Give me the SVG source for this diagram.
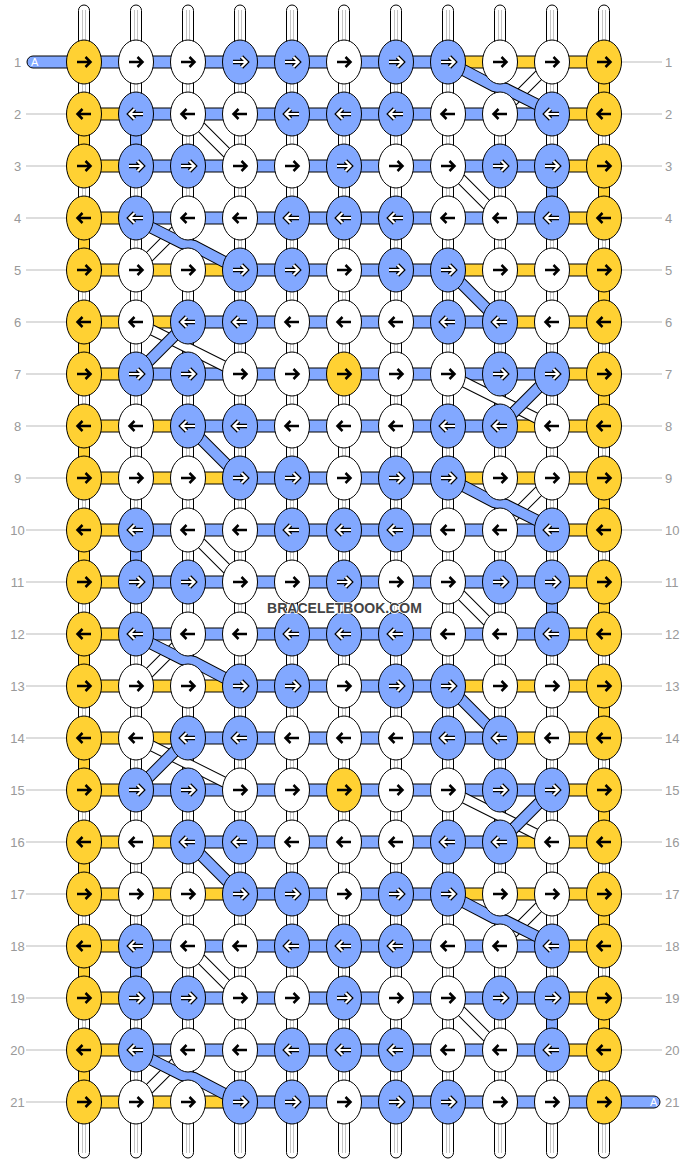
<svg xmlns="http://www.w3.org/2000/svg" xmlns:xlink="http://www.w3.org/1999/xlink" width="688" height="1164" viewBox="0 0 688 1164">
<style>
.ky{fill:#FFD133;stroke:#000;stroke-width:1}
.kb{fill:#82A8FF;stroke:#000;stroke-width:1}
.kw{fill:#fff;stroke:#000;stroke-width:1}
.hy{fill:#FFD133;stroke:#000;stroke-width:1}
.hb{fill:#82A8FF;stroke:#000;stroke-width:1}
.ws{fill:#fff;stroke:#000;stroke-width:1}
.wl{fill:none;stroke:#c4c4c4;stroke-width:1}
.ab{fill:none;stroke:#000;stroke-width:2.5}
.ao{fill:none;stroke:#000;stroke-width:4.6}
.ai{fill:none;stroke:#fff;stroke-width:2.2}
.dwo{fill:none;stroke:#000;stroke-width:11}
.dwi{fill:none;stroke:#fff;stroke-width:9}
.dbo{fill:none;stroke:#000;stroke-width:12}
.dbi{fill:none;stroke:#82A8FF;stroke-width:10}
.lab{font-family:"Liberation Sans",Arial,sans-serif;font-size:13px;fill:#999}
.gl{fill:none;stroke:#bbb;stroke-width:1}
.at{font-family:"Liberation Sans",Arial,sans-serif;font-size:11px;fill:#fff}
</style>
<defs>
<ellipse id="e" rx="17.5" ry="22"/>
<path id="pr" d="M-7,0H6.5M1.5,-5L6.5,0L1.5,5"/>
<path id="pl" d="M7,0H-6.5M-1.5,-5L-6.5,0L-1.5,5"/>
<g id="YR"><use href="#e" class="ky"/><use href="#pr" class="ab"/></g>
<g id="YL"><use href="#e" class="ky"/><use href="#pl" class="ab"/></g>
<g id="WR"><use href="#e" class="kw"/><use href="#pr" class="ab"/></g>
<g id="WL"><use href="#e" class="kw"/><use href="#pl" class="ab"/></g>
<g id="BR"><use href="#e" class="kb"/><use href="#pr" class="ao"/><use href="#pr" class="ai"/></g>
<g id="BL"><use href="#e" class="kb"/><use href="#pl" class="ao"/><use href="#pl" class="ai"/></g>
<g id="dA">
<path d="M552,62L500,114M188,114L240,166M448,166L500,218M188,218L136,270" class="dwo"/>
<path d="M552,62L500,114M188,114L240,166M448,166L500,218M188,218L136,270" class="dwi"/>
<path d="M448,62L494,86L506,89L552,112M136,220L182,243L194,246L240,270" class="dbo"/>
<path d="M448,62L494,86L506,89L552,112M136,220L182,243L194,246L240,270" class="dbi"/>
</g>
<g id="dB">
<path d="M136,322L240,374M448,374L552,426" class="dwo"/>
<path d="M136,322L240,374M448,374L552,426" class="dwi"/>
<path d="M448,270L500,322M188,322L136,374M552,374L500,426M188,426L240,478" class="dbo"/>
<path d="M448,270L500,322M188,322L136,374M552,374L500,426M188,426L240,478" class="dbi"/>
</g>
</defs>
<rect width="688" height="1164" fill="#fff"/>
<g id="labels">
<path class="gl" d="M26,114H70M26,166H70M26,218H70M26,270H70M26,322H70M26,374H70M26,426H70M26,478H70M26,530H70M26,582H70M26,634H70M26,686H70M26,738H70M26,790H70M26,842H70M26,894H70M26,946H70M26,998H70M26,1050H70M26,1102H70"/>
<path class="gl" d="M618,62H662M618,114H662M618,166H662M618,218H662M618,270H662M618,322H662M618,374H662M618,426H662M618,478H662M618,530H662M618,582H662M618,634H662M618,686H662M618,738H662M618,790H662M618,842H662M618,894H662M618,946H662M618,998H662M618,1050H662"/>
<g class="lab" text-anchor="middle">
<text x="17.5" y="66.5">1</text><text x="17.5" y="118.5">2</text><text x="17.5" y="170.5">3</text><text x="17.5" y="222.5">4</text><text x="17.5" y="274.5">5</text><text x="17.5" y="326.5">6</text><text x="17.5" y="378.5">7</text><text x="17.5" y="430.5">8</text><text x="17.5" y="482.5">9</text><text x="17.5" y="534.5">10</text><text x="17.5" y="586.5">11</text><text x="17.5" y="638.5">12</text><text x="17.5" y="690.5">13</text><text x="17.5" y="742.5">14</text><text x="17.5" y="794.5">15</text><text x="17.5" y="846.5">16</text><text x="17.5" y="898.5">17</text><text x="17.5" y="950.5">18</text><text x="17.5" y="1002.5">19</text><text x="17.5" y="1054.5">20</text><text x="17.5" y="1106.5">21</text>
</g>
<g class="lab">
<text x="665" y="66.5">1</text><text x="665" y="118.5">2</text><text x="665" y="170.5">3</text><text x="665" y="222.5">4</text><text x="665" y="274.5">5</text><text x="665" y="326.5">6</text><text x="665" y="378.5">7</text><text x="665" y="430.5">8</text><text x="665" y="482.5">9</text><text x="665" y="534.5">10</text><text x="665" y="586.5">11</text><text x="665" y="638.5">12</text><text x="665" y="690.5">13</text><text x="665" y="742.5">14</text><text x="665" y="794.5">15</text><text x="665" y="846.5">16</text><text x="665" y="898.5">17</text><text x="665" y="950.5">18</text><text x="665" y="1002.5">19</text><text x="665" y="1054.5">20</text><text x="665" y="1106.5">21</text>
</g>
</g>
<g id="connectors">
<g id="warps">
<rect class="ws" x="78.5" y="5" width="11" height="1153" rx="5.5"/>
<rect class="ws" x="130.5" y="5" width="11" height="1153" rx="5.5"/>
<rect class="ws" x="182.5" y="5" width="11" height="1153" rx="5.5"/>
<rect class="ws" x="234.5" y="5" width="11" height="1153" rx="5.5"/>
<rect class="ws" x="286.5" y="5" width="11" height="1153" rx="5.5"/>
<rect class="ws" x="338.5" y="5" width="11" height="1153" rx="5.5"/>
<rect class="ws" x="390.5" y="5" width="11" height="1153" rx="5.5"/>
<rect class="ws" x="442.5" y="5" width="11" height="1153" rx="5.5"/>
<rect class="ws" x="494.5" y="5" width="11" height="1153" rx="5.5"/>
<rect class="ws" x="546.5" y="5" width="11" height="1153" rx="5.5"/>
<rect class="ws" x="598.5" y="5" width="11" height="1153" rx="5.5"/>
<path class="wl" d="M82.5,10V1153M85.5,10V1153M134.5,10V1153M137.5,10V1153M186.5,10V1153M189.5,10V1153M238.5,10V1153M241.5,10V1153M290.5,10V1153M293.5,10V1153M342.5,10V1153M345.5,10V1153M394.5,10V1153M397.5,10V1153M446.5,10V1153M449.5,10V1153M498.5,10V1153M501.5,10V1153M550.5,10V1153M553.5,10V1153M602.5,10V1153M605.5,10V1153"/>
</g>
<g id="weft-h">
<rect class="hb" x="27" y="56" width="62" height="12" rx="6"/>
<rect class="hb" x="84" y="56" width="364" height="12"/><rect class="hy" x="448" y="56" width="156" height="12"/>
<rect class="hy" x="84" y="108" width="52" height="12"/><rect class="hb" x="136" y="108" width="416" height="12"/><rect class="hy" x="552" y="108" width="52" height="12"/>
<rect class="hy" x="84" y="160" width="52" height="12"/><rect class="hb" x="136" y="160" width="416" height="12"/><rect class="hy" x="552" y="160" width="52" height="12"/>
<rect class="hy" x="84" y="212" width="52" height="12"/><rect class="hb" x="136" y="212" width="416" height="12"/><rect class="hy" x="552" y="212" width="52" height="12"/>
<rect class="hy" x="84" y="264" width="156" height="12"/><rect class="hb" x="240" y="264" width="208" height="12"/><rect class="hy" x="448" y="264" width="156" height="12"/>
<rect class="hy" x="84" y="316" width="104" height="12"/><rect class="hb" x="188" y="316" width="312" height="12"/><rect class="hy" x="500" y="316" width="104" height="12"/>
<rect class="hy" x="84" y="368" width="52" height="12"/><rect class="hb" x="136" y="368" width="416" height="12"/><rect class="hy" x="552" y="368" width="52" height="12"/>
<rect class="hy" x="84" y="420" width="104" height="12"/><rect class="hb" x="188" y="420" width="312" height="12"/><rect class="hy" x="500" y="420" width="104" height="12"/>
<rect class="hy" x="84" y="472" width="156" height="12"/><rect class="hb" x="240" y="472" width="208" height="12"/><rect class="hy" x="448" y="472" width="156" height="12"/>
<rect class="hy" x="84" y="524" width="52" height="12"/><rect class="hb" x="136" y="524" width="416" height="12"/><rect class="hy" x="552" y="524" width="52" height="12"/>
<rect class="hy" x="84" y="576" width="52" height="12"/><rect class="hb" x="136" y="576" width="416" height="12"/><rect class="hy" x="552" y="576" width="52" height="12"/>
<rect class="hy" x="84" y="628" width="52" height="12"/><rect class="hb" x="136" y="628" width="416" height="12"/><rect class="hy" x="552" y="628" width="52" height="12"/>
<rect class="hy" x="84" y="680" width="156" height="12"/><rect class="hb" x="240" y="680" width="208" height="12"/><rect class="hy" x="448" y="680" width="156" height="12"/>
<rect class="hy" x="84" y="732" width="104" height="12"/><rect class="hb" x="188" y="732" width="312" height="12"/><rect class="hy" x="500" y="732" width="104" height="12"/>
<rect class="hy" x="84" y="784" width="52" height="12"/><rect class="hb" x="136" y="784" width="416" height="12"/><rect class="hy" x="552" y="784" width="52" height="12"/>
<rect class="hy" x="84" y="836" width="104" height="12"/><rect class="hb" x="188" y="836" width="312" height="12"/><rect class="hy" x="500" y="836" width="104" height="12"/>
<rect class="hy" x="84" y="888" width="156" height="12"/><rect class="hb" x="240" y="888" width="208" height="12"/><rect class="hy" x="448" y="888" width="156" height="12"/>
<rect class="hy" x="84" y="940" width="52" height="12"/><rect class="hb" x="136" y="940" width="416" height="12"/><rect class="hy" x="552" y="940" width="52" height="12"/>
<rect class="hy" x="84" y="992" width="52" height="12"/><rect class="hb" x="136" y="992" width="416" height="12"/><rect class="hy" x="552" y="992" width="52" height="12"/>
<rect class="hy" x="84" y="1044" width="52" height="12"/><rect class="hb" x="136" y="1044" width="416" height="12"/><rect class="hy" x="552" y="1044" width="52" height="12"/>
<rect class="hb" x="590" y="1096" width="70" height="12" rx="6"/>
<rect class="hy" x="84" y="1096" width="156" height="12"/><rect class="hb" x="240" y="1096" width="364" height="12"/>
<text class="at" x="31" y="66">A</text>
<text class="at" x="650" y="1106">A</text>
</g>
<g id="weft-v">
<rect class="hy" x="78.5" y="114" width="11" height="52"/><rect class="hy" x="78.5" y="218" width="11" height="52"/><rect class="hy" x="78.5" y="322" width="11" height="52"/><rect class="hy" x="78.5" y="426" width="11" height="52"/><rect class="hy" x="78.5" y="530" width="11" height="52"/><rect class="hy" x="78.5" y="634" width="11" height="52"/><rect class="hy" x="78.5" y="738" width="11" height="52"/><rect class="hy" x="78.5" y="842" width="11" height="52"/><rect class="hy" x="78.5" y="946" width="11" height="52"/><rect class="hy" x="78.5" y="1050" width="11" height="52"/>
<rect class="hy" x="598.5" y="62" width="11" height="52"/><rect class="hy" x="598.5" y="166" width="11" height="52"/><rect class="hy" x="598.5" y="270" width="11" height="52"/><rect class="hy" x="598.5" y="374" width="11" height="52"/><rect class="hy" x="598.5" y="478" width="11" height="52"/><rect class="hy" x="598.5" y="582" width="11" height="52"/><rect class="hy" x="598.5" y="686" width="11" height="52"/><rect class="hy" x="598.5" y="790" width="11" height="52"/><rect class="hy" x="598.5" y="894" width="11" height="52"/><rect class="hy" x="598.5" y="998" width="11" height="52"/>
<rect class="hb" x="130.5" y="114" width="11" height="52"/><rect class="hb" x="130.5" y="530" width="11" height="52"/><rect class="hb" x="130.5" y="946" width="11" height="52"/>
<rect class="hb" x="546.5" y="166" width="11" height="52"/><rect class="hb" x="546.5" y="582" width="11" height="52"/><rect class="hb" x="546.5" y="998" width="11" height="52"/>
</g>
<g id="diagonals">
<use href="#dA"/><use href="#dA" y="416"/><use href="#dA" y="832"/>
<use href="#dB"/><use href="#dB" y="416"/>
</g>
</g>
<g id="knots">
<g id="n1-1"><use href="#YR" x="84" y="62"/></g><g id="n1-2"><use href="#WR" x="136" y="62"/></g><g id="n1-3"><use href="#WR" x="188" y="62"/></g><g id="n1-4"><use href="#BR" x="240" y="62"/></g><g id="n1-5"><use href="#BR" x="292" y="62"/></g><g id="n1-6"><use href="#WR" x="344" y="62"/></g><g id="n1-7"><use href="#BR" x="396" y="62"/></g><g id="n1-8"><use href="#BR" x="448" y="62"/></g><g id="n1-9"><use href="#WR" x="500" y="62"/></g><g id="n1-10"><use href="#WR" x="552" y="62"/></g><g id="n1-11"><use href="#YR" x="604" y="62"/></g>
<g id="n2-1"><use href="#YL" x="84" y="114"/></g><g id="n2-2"><use href="#BL" x="136" y="114"/></g><g id="n2-3"><use href="#WL" x="188" y="114"/></g><g id="n2-4"><use href="#WL" x="240" y="114"/></g><g id="n2-5"><use href="#BL" x="292" y="114"/></g><g id="n2-6"><use href="#BL" x="344" y="114"/></g><g id="n2-7"><use href="#BL" x="396" y="114"/></g><g id="n2-8"><use href="#WL" x="448" y="114"/></g><g id="n2-9"><use href="#WL" x="500" y="114"/></g><g id="n2-10"><use href="#BL" x="552" y="114"/></g><g id="n2-11"><use href="#YL" x="604" y="114"/></g>
<g id="n3-1"><use href="#YR" x="84" y="166"/></g><g id="n3-2"><use href="#BR" x="136" y="166"/></g><g id="n3-3"><use href="#BR" x="188" y="166"/></g><g id="n3-4"><use href="#WR" x="240" y="166"/></g><g id="n3-5"><use href="#WR" x="292" y="166"/></g><g id="n3-6"><use href="#BR" x="344" y="166"/></g><g id="n3-7"><use href="#WR" x="396" y="166"/></g><g id="n3-8"><use href="#WR" x="448" y="166"/></g><g id="n3-9"><use href="#BR" x="500" y="166"/></g><g id="n3-10"><use href="#BR" x="552" y="166"/></g><g id="n3-11"><use href="#YR" x="604" y="166"/></g>
<g id="n4-1"><use href="#YL" x="84" y="218"/></g><g id="n4-2"><use href="#BL" x="136" y="218"/></g><g id="n4-3"><use href="#WL" x="188" y="218"/></g><g id="n4-4"><use href="#WL" x="240" y="218"/></g><g id="n4-5"><use href="#BL" x="292" y="218"/></g><g id="n4-6"><use href="#BL" x="344" y="218"/></g><g id="n4-7"><use href="#BL" x="396" y="218"/></g><g id="n4-8"><use href="#WL" x="448" y="218"/></g><g id="n4-9"><use href="#WL" x="500" y="218"/></g><g id="n4-10"><use href="#BL" x="552" y="218"/></g><g id="n4-11"><use href="#YL" x="604" y="218"/></g>
<g id="n5-1"><use href="#YR" x="84" y="270"/></g><g id="n5-2"><use href="#WR" x="136" y="270"/></g><g id="n5-3"><use href="#WR" x="188" y="270"/></g><g id="n5-4"><use href="#BR" x="240" y="270"/></g><g id="n5-5"><use href="#BR" x="292" y="270"/></g><g id="n5-6"><use href="#WR" x="344" y="270"/></g><g id="n5-7"><use href="#BR" x="396" y="270"/></g><g id="n5-8"><use href="#BR" x="448" y="270"/></g><g id="n5-9"><use href="#WR" x="500" y="270"/></g><g id="n5-10"><use href="#WR" x="552" y="270"/></g><g id="n5-11"><use href="#YR" x="604" y="270"/></g>
<g id="n6-1"><use href="#YL" x="84" y="322"/></g><g id="n6-2"><use href="#WL" x="136" y="322"/></g><g id="n6-3"><use href="#BL" x="188" y="322"/></g><g id="n6-4"><use href="#BL" x="240" y="322"/></g><g id="n6-5"><use href="#WL" x="292" y="322"/></g><g id="n6-6"><use href="#WL" x="344" y="322"/></g><g id="n6-7"><use href="#WL" x="396" y="322"/></g><g id="n6-8"><use href="#BL" x="448" y="322"/></g><g id="n6-9"><use href="#BL" x="500" y="322"/></g><g id="n6-10"><use href="#WL" x="552" y="322"/></g><g id="n6-11"><use href="#YL" x="604" y="322"/></g>
<g id="n7-1"><use href="#YR" x="84" y="374"/></g><g id="n7-2"><use href="#BR" x="136" y="374"/></g><g id="n7-3"><use href="#BR" x="188" y="374"/></g><g id="n7-4"><use href="#WR" x="240" y="374"/></g><g id="n7-5"><use href="#WR" x="292" y="374"/></g><g id="n7-6"><use href="#YR" x="344" y="374"/></g><g id="n7-7"><use href="#WR" x="396" y="374"/></g><g id="n7-8"><use href="#WR" x="448" y="374"/></g><g id="n7-9"><use href="#BR" x="500" y="374"/></g><g id="n7-10"><use href="#BR" x="552" y="374"/></g><g id="n7-11"><use href="#YR" x="604" y="374"/></g>
<g id="n8-1"><use href="#YL" x="84" y="426"/></g><g id="n8-2"><use href="#WL" x="136" y="426"/></g><g id="n8-3"><use href="#BL" x="188" y="426"/></g><g id="n8-4"><use href="#BL" x="240" y="426"/></g><g id="n8-5"><use href="#WL" x="292" y="426"/></g><g id="n8-6"><use href="#WL" x="344" y="426"/></g><g id="n8-7"><use href="#WL" x="396" y="426"/></g><g id="n8-8"><use href="#BL" x="448" y="426"/></g><g id="n8-9"><use href="#BL" x="500" y="426"/></g><g id="n8-10"><use href="#WL" x="552" y="426"/></g><g id="n8-11"><use href="#YL" x="604" y="426"/></g>
<g id="n9-1"><use href="#YR" x="84" y="478"/></g><g id="n9-2"><use href="#WR" x="136" y="478"/></g><g id="n9-3"><use href="#WR" x="188" y="478"/></g><g id="n9-4"><use href="#BR" x="240" y="478"/></g><g id="n9-5"><use href="#BR" x="292" y="478"/></g><g id="n9-6"><use href="#WR" x="344" y="478"/></g><g id="n9-7"><use href="#BR" x="396" y="478"/></g><g id="n9-8"><use href="#BR" x="448" y="478"/></g><g id="n9-9"><use href="#WR" x="500" y="478"/></g><g id="n9-10"><use href="#WR" x="552" y="478"/></g><g id="n9-11"><use href="#YR" x="604" y="478"/></g>
<g id="n10-1"><use href="#YL" x="84" y="530"/></g><g id="n10-2"><use href="#BL" x="136" y="530"/></g><g id="n10-3"><use href="#WL" x="188" y="530"/></g><g id="n10-4"><use href="#WL" x="240" y="530"/></g><g id="n10-5"><use href="#BL" x="292" y="530"/></g><g id="n10-6"><use href="#BL" x="344" y="530"/></g><g id="n10-7"><use href="#BL" x="396" y="530"/></g><g id="n10-8"><use href="#WL" x="448" y="530"/></g><g id="n10-9"><use href="#WL" x="500" y="530"/></g><g id="n10-10"><use href="#BL" x="552" y="530"/></g><g id="n10-11"><use href="#YL" x="604" y="530"/></g>
<g id="n11-1"><use href="#YR" x="84" y="582"/></g><g id="n11-2"><use href="#BR" x="136" y="582"/></g><g id="n11-3"><use href="#BR" x="188" y="582"/></g><g id="n11-4"><use href="#WR" x="240" y="582"/></g><g id="n11-5"><use href="#WR" x="292" y="582"/></g><g id="n11-6"><use href="#BR" x="344" y="582"/></g><g id="n11-7"><use href="#WR" x="396" y="582"/></g><g id="n11-8"><use href="#WR" x="448" y="582"/></g><g id="n11-9"><use href="#BR" x="500" y="582"/></g><g id="n11-10"><use href="#BR" x="552" y="582"/></g><g id="n11-11"><use href="#YR" x="604" y="582"/></g>
<g id="n12-1"><use href="#YL" x="84" y="634"/></g><g id="n12-2"><use href="#BL" x="136" y="634"/></g><g id="n12-3"><use href="#WL" x="188" y="634"/></g><g id="n12-4"><use href="#WL" x="240" y="634"/></g><g id="n12-5"><use href="#BL" x="292" y="634"/></g><g id="n12-6"><use href="#BL" x="344" y="634"/></g><g id="n12-7"><use href="#BL" x="396" y="634"/></g><g id="n12-8"><use href="#WL" x="448" y="634"/></g><g id="n12-9"><use href="#WL" x="500" y="634"/></g><g id="n12-10"><use href="#BL" x="552" y="634"/></g><g id="n12-11"><use href="#YL" x="604" y="634"/></g>
<g id="n13-1"><use href="#YR" x="84" y="686"/></g><g id="n13-2"><use href="#WR" x="136" y="686"/></g><g id="n13-3"><use href="#WR" x="188" y="686"/></g><g id="n13-4"><use href="#BR" x="240" y="686"/></g><g id="n13-5"><use href="#BR" x="292" y="686"/></g><g id="n13-6"><use href="#WR" x="344" y="686"/></g><g id="n13-7"><use href="#BR" x="396" y="686"/></g><g id="n13-8"><use href="#BR" x="448" y="686"/></g><g id="n13-9"><use href="#WR" x="500" y="686"/></g><g id="n13-10"><use href="#WR" x="552" y="686"/></g><g id="n13-11"><use href="#YR" x="604" y="686"/></g>
<g id="n14-1"><use href="#YL" x="84" y="738"/></g><g id="n14-2"><use href="#WL" x="136" y="738"/></g><g id="n14-3"><use href="#BL" x="188" y="738"/></g><g id="n14-4"><use href="#BL" x="240" y="738"/></g><g id="n14-5"><use href="#WL" x="292" y="738"/></g><g id="n14-6"><use href="#WL" x="344" y="738"/></g><g id="n14-7"><use href="#WL" x="396" y="738"/></g><g id="n14-8"><use href="#BL" x="448" y="738"/></g><g id="n14-9"><use href="#BL" x="500" y="738"/></g><g id="n14-10"><use href="#WL" x="552" y="738"/></g><g id="n14-11"><use href="#YL" x="604" y="738"/></g>
<g id="n15-1"><use href="#YR" x="84" y="790"/></g><g id="n15-2"><use href="#BR" x="136" y="790"/></g><g id="n15-3"><use href="#BR" x="188" y="790"/></g><g id="n15-4"><use href="#WR" x="240" y="790"/></g><g id="n15-5"><use href="#WR" x="292" y="790"/></g><g id="n15-6"><use href="#YR" x="344" y="790"/></g><g id="n15-7"><use href="#WR" x="396" y="790"/></g><g id="n15-8"><use href="#WR" x="448" y="790"/></g><g id="n15-9"><use href="#BR" x="500" y="790"/></g><g id="n15-10"><use href="#BR" x="552" y="790"/></g><g id="n15-11"><use href="#YR" x="604" y="790"/></g>
<g id="n16-1"><use href="#YL" x="84" y="842"/></g><g id="n16-2"><use href="#WL" x="136" y="842"/></g><g id="n16-3"><use href="#BL" x="188" y="842"/></g><g id="n16-4"><use href="#BL" x="240" y="842"/></g><g id="n16-5"><use href="#WL" x="292" y="842"/></g><g id="n16-6"><use href="#WL" x="344" y="842"/></g><g id="n16-7"><use href="#WL" x="396" y="842"/></g><g id="n16-8"><use href="#BL" x="448" y="842"/></g><g id="n16-9"><use href="#BL" x="500" y="842"/></g><g id="n16-10"><use href="#WL" x="552" y="842"/></g><g id="n16-11"><use href="#YL" x="604" y="842"/></g>
<g id="n17-1"><use href="#YR" x="84" y="894"/></g><g id="n17-2"><use href="#WR" x="136" y="894"/></g><g id="n17-3"><use href="#WR" x="188" y="894"/></g><g id="n17-4"><use href="#BR" x="240" y="894"/></g><g id="n17-5"><use href="#BR" x="292" y="894"/></g><g id="n17-6"><use href="#WR" x="344" y="894"/></g><g id="n17-7"><use href="#BR" x="396" y="894"/></g><g id="n17-8"><use href="#BR" x="448" y="894"/></g><g id="n17-9"><use href="#WR" x="500" y="894"/></g><g id="n17-10"><use href="#WR" x="552" y="894"/></g><g id="n17-11"><use href="#YR" x="604" y="894"/></g>
<g id="n18-1"><use href="#YL" x="84" y="946"/></g><g id="n18-2"><use href="#BL" x="136" y="946"/></g><g id="n18-3"><use href="#WL" x="188" y="946"/></g><g id="n18-4"><use href="#WL" x="240" y="946"/></g><g id="n18-5"><use href="#BL" x="292" y="946"/></g><g id="n18-6"><use href="#BL" x="344" y="946"/></g><g id="n18-7"><use href="#BL" x="396" y="946"/></g><g id="n18-8"><use href="#WL" x="448" y="946"/></g><g id="n18-9"><use href="#WL" x="500" y="946"/></g><g id="n18-10"><use href="#BL" x="552" y="946"/></g><g id="n18-11"><use href="#YL" x="604" y="946"/></g>
<g id="n19-1"><use href="#YR" x="84" y="998"/></g><g id="n19-2"><use href="#BR" x="136" y="998"/></g><g id="n19-3"><use href="#BR" x="188" y="998"/></g><g id="n19-4"><use href="#WR" x="240" y="998"/></g><g id="n19-5"><use href="#WR" x="292" y="998"/></g><g id="n19-6"><use href="#BR" x="344" y="998"/></g><g id="n19-7"><use href="#WR" x="396" y="998"/></g><g id="n19-8"><use href="#WR" x="448" y="998"/></g><g id="n19-9"><use href="#BR" x="500" y="998"/></g><g id="n19-10"><use href="#BR" x="552" y="998"/></g><g id="n19-11"><use href="#YR" x="604" y="998"/></g>
<g id="n20-1"><use href="#YL" x="84" y="1050"/></g><g id="n20-2"><use href="#BL" x="136" y="1050"/></g><g id="n20-3"><use href="#WL" x="188" y="1050"/></g><g id="n20-4"><use href="#WL" x="240" y="1050"/></g><g id="n20-5"><use href="#BL" x="292" y="1050"/></g><g id="n20-6"><use href="#BL" x="344" y="1050"/></g><g id="n20-7"><use href="#BL" x="396" y="1050"/></g><g id="n20-8"><use href="#WL" x="448" y="1050"/></g><g id="n20-9"><use href="#WL" x="500" y="1050"/></g><g id="n20-10"><use href="#BL" x="552" y="1050"/></g><g id="n20-11"><use href="#YL" x="604" y="1050"/></g>
<g id="n21-1"><use href="#YR" x="84" y="1102"/></g><g id="n21-2"><use href="#WR" x="136" y="1102"/></g><g id="n21-3"><use href="#WR" x="188" y="1102"/></g><g id="n21-4"><use href="#BR" x="240" y="1102"/></g><g id="n21-5"><use href="#BR" x="292" y="1102"/></g><g id="n21-6"><use href="#WR" x="344" y="1102"/></g><g id="n21-7"><use href="#BR" x="396" y="1102"/></g><g id="n21-8"><use href="#BR" x="448" y="1102"/></g><g id="n21-9"><use href="#WR" x="500" y="1102"/></g><g id="n21-10"><use href="#WR" x="552" y="1102"/></g><g id="n21-11"><use href="#YR" x="604" y="1102"/></g>
</g>
<text x="344.5" y="613" text-anchor="middle" font-family="Liberation Sans, Arial, sans-serif" font-weight="bold" font-size="14" fill="#444" stroke="#fff" stroke-width="1.5" paint-order="stroke">BRACELETBOOK.COM</text>
</svg>
